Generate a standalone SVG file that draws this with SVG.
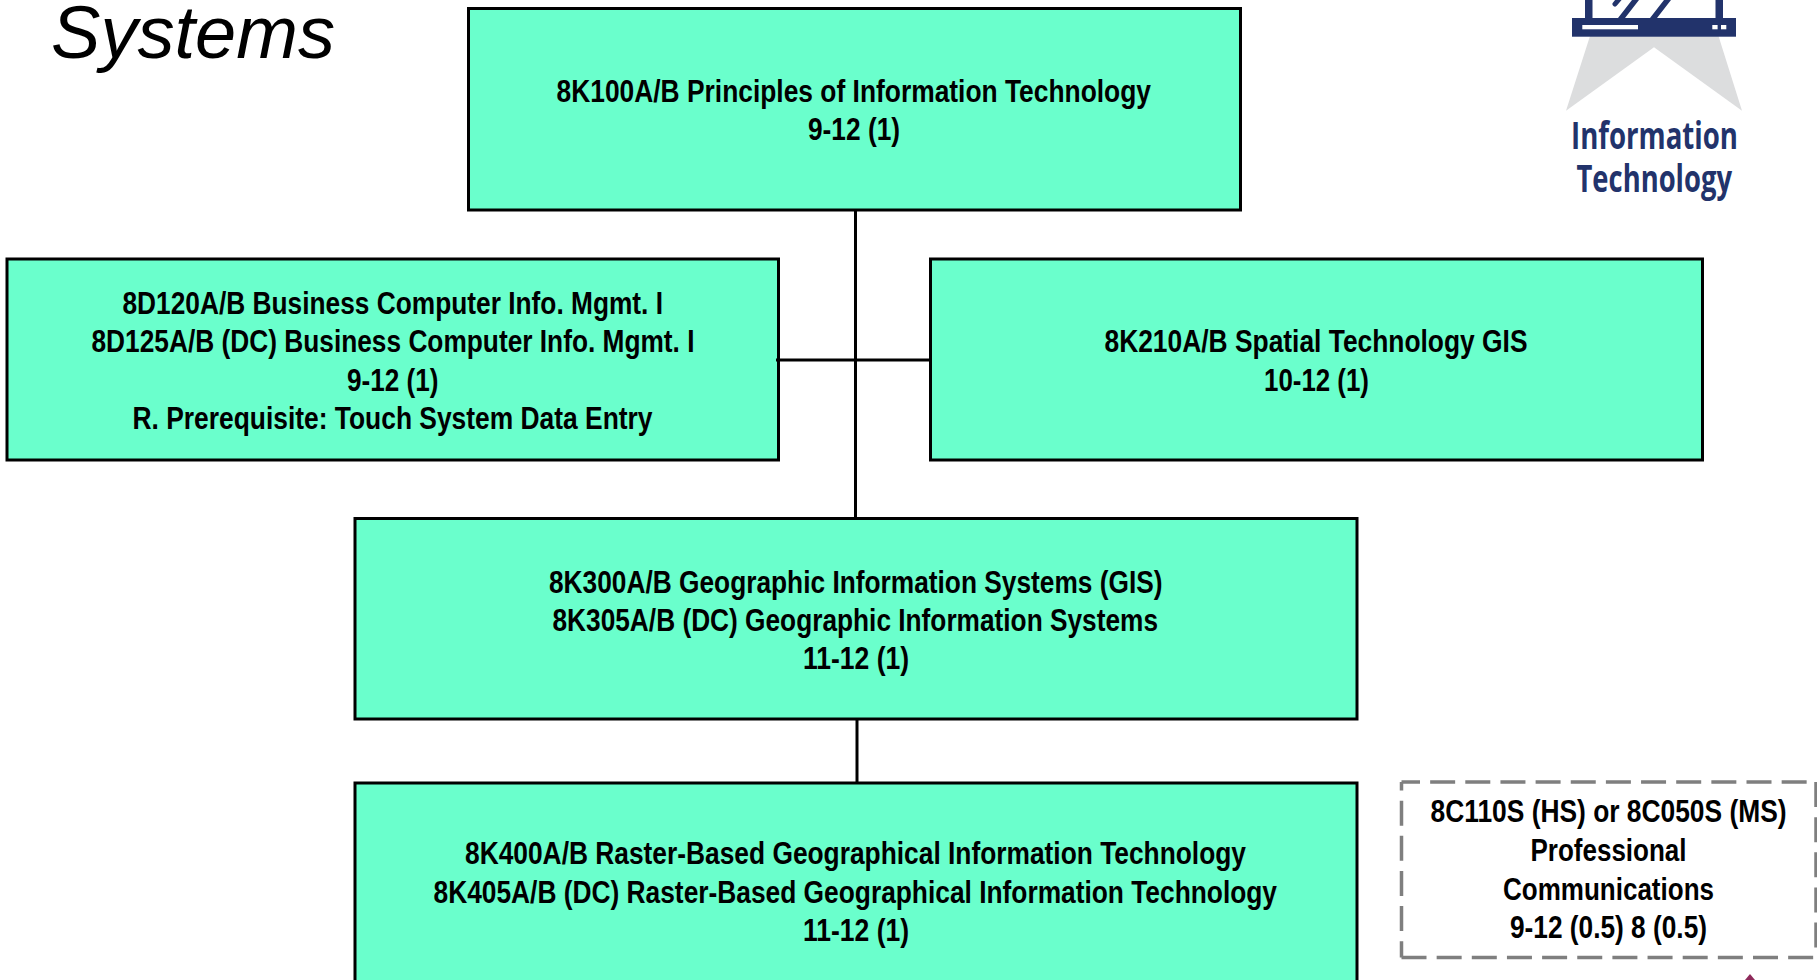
<svg xmlns="http://www.w3.org/2000/svg" width="1817" height="980" viewBox="0 0 1817 980">
<style>
.box{fill:#6affcc;stroke:#000;stroke-width:3}
.conn{stroke:#000;stroke-width:3;fill:none}
.dash{stroke:#7f7f7f;stroke-width:3.500;fill:none;stroke-dasharray:25 10.15}
text{font-family:"Liberation Sans",Arial,sans-serif}
.t{font-size:31px;font-weight:700;fill:#000}
.logo{font-family:"Open Sans",sans-serif;font-size:37px;font-weight:700;fill:#22336b}
.navy{fill:#22336b}
</style>
<rect width="1817" height="980" fill="#fff"/>
<text id="title" x="51" y="57.500" font-size="75" font-style="italic" fill="#000" textLength="284" lengthAdjust="spacingAndGlyphs">Systems</text>
<g id="node-8K100">
<rect class="box" x="468.5" y="8.5" width="772" height="201.500"/>
<text class="t" x="556.500" y="101.500" textLength="594.500" lengthAdjust="spacingAndGlyphs">8K100A/B Principles of Information Technology</text>
<text class="t" x="808" y="139.500" textLength="92" lengthAdjust="spacingAndGlyphs">9-12 (1)</text>
</g>
<g id="node-8D120">
<rect class="box" x="7" y="259" width="771.500" height="201"/>
<text class="t" x="122.500" y="313.500" textLength="540.500" lengthAdjust="spacingAndGlyphs">8D120A/B Business Computer Info. Mgmt. I</text>
<text class="t" x="91.500" y="352" textLength="603" lengthAdjust="spacingAndGlyphs">8D125A/B (DC) Business Computer Info. Mgmt. I</text>
<text class="t" x="347" y="390.500" textLength="91.500" lengthAdjust="spacingAndGlyphs">9-12 (1)</text>
<text class="t" x="132.500" y="428.500" textLength="520" lengthAdjust="spacingAndGlyphs">R. Prerequisite: Touch System Data Entry</text>
</g>
<g id="node-8K210">
<rect class="box" x="930.500" y="259" width="772" height="201"/>
<text class="t" x="1104.500" y="352" textLength="423" lengthAdjust="spacingAndGlyphs">8K210A/B Spatial Technology GIS</text>
<text class="t" x="1264" y="391" textLength="105" lengthAdjust="spacingAndGlyphs">10-12 (1)</text>
</g>
<g id="node-8K300">
<rect class="box" x="355" y="518.500" width="1002" height="200.500"/>
<text class="t" x="549" y="592.500" textLength="613.500" lengthAdjust="spacingAndGlyphs">8K300A/B Geographic Information Systems (GIS)</text>
<text class="t" x="552.500" y="630.500" textLength="605.500" lengthAdjust="spacingAndGlyphs">8K305A/B (DC) Geographic Information Systems</text>
<text class="t" x="803" y="668.500" textLength="106" lengthAdjust="spacingAndGlyphs">11-12 (1)</text>
</g>
<g id="node-8K400">
<rect class="box" x="355" y="783" width="1002" height="220"/>
<text class="t" x="465" y="864" textLength="781" lengthAdjust="spacingAndGlyphs">8K400A/B Raster-Based Geographical Information Technology</text>
<text class="t" x="433.500" y="903" textLength="843.500" lengthAdjust="spacingAndGlyphs">8K405A/B (DC) Raster-Based Geographical Information Technology</text>
<text class="t" x="803" y="941" textLength="106" lengthAdjust="spacingAndGlyphs">11-12 (1)</text>
</g>
<g id="node-8C110">
<path class="dash" d="M1401.500 782H1816" stroke-dashoffset="6.500"/>
<path class="dash" d="M1401.500 957.500H1817"/>
<path class="dash" d="M1401.500 782V957.500" stroke-dashoffset="16.500"/>
<path class="dash" d="M1816 782V957.500"/>
<text class="t" x="1430.500" y="822" textLength="356" lengthAdjust="spacingAndGlyphs">8C110S (HS) or 8C050S (MS)</text>
<text class="t" x="1530.500" y="861" textLength="156" lengthAdjust="spacingAndGlyphs">Professional</text>
<text class="t" x="1503" y="899.500" textLength="211" lengthAdjust="spacingAndGlyphs">Communications</text>
<text class="t" x="1510" y="938" textLength="197" lengthAdjust="spacingAndGlyphs">9-12 (0.5) 8 (0.5)</text>
</g>
<g id="connectors">
<path class="conn" d="M855.500 210V518"/>
<path class="conn" d="M776 360H931"/>
<path class="conn" d="M857 719V783"/>
</g>
<g id="logo-it">
<polygon fill="#dcddde" points="1590,36 1566,110.700 1654,47.300 1742,110.700 1718.500,36"/>
<rect class="navy" x="1585" y="0" width="7.500" height="19"/>
<rect class="navy" x="1715.500" y="0" width="7.500" height="19"/>
<path class="navy" d="M1618 18 1632 0H1639L1625 18ZM1650 18 1664 0H1671L1657 18Z"/>
<path d="M1615 4 1620 -2" stroke="#22336b" stroke-width="5" stroke-linecap="round" fill="none"/>
<rect class="navy" x="1572" y="18" width="164" height="18.700"/>
<rect x="1582.300" y="25" width="55.700" height="4.300" fill="#fff"/>
<rect x="1712.300" y="25" width="5.300" height="4.300" fill="#fff"/>
<rect x="1721" y="25" width="5.300" height="4.300" fill="#fff"/>
<text class="logo"><tspan x="1571" y="149" textLength="167" lengthAdjust="spacingAndGlyphs">Information</tspan><tspan x="1576.500" y="192" textLength="155.500" lengthAdjust="spacingAndGlyphs">Technology</tspan></text>
</g>
<polygon id="corner-mark" fill="#8e2a5a" points="1750,974 1745,980 1755,980"/>
</svg>
